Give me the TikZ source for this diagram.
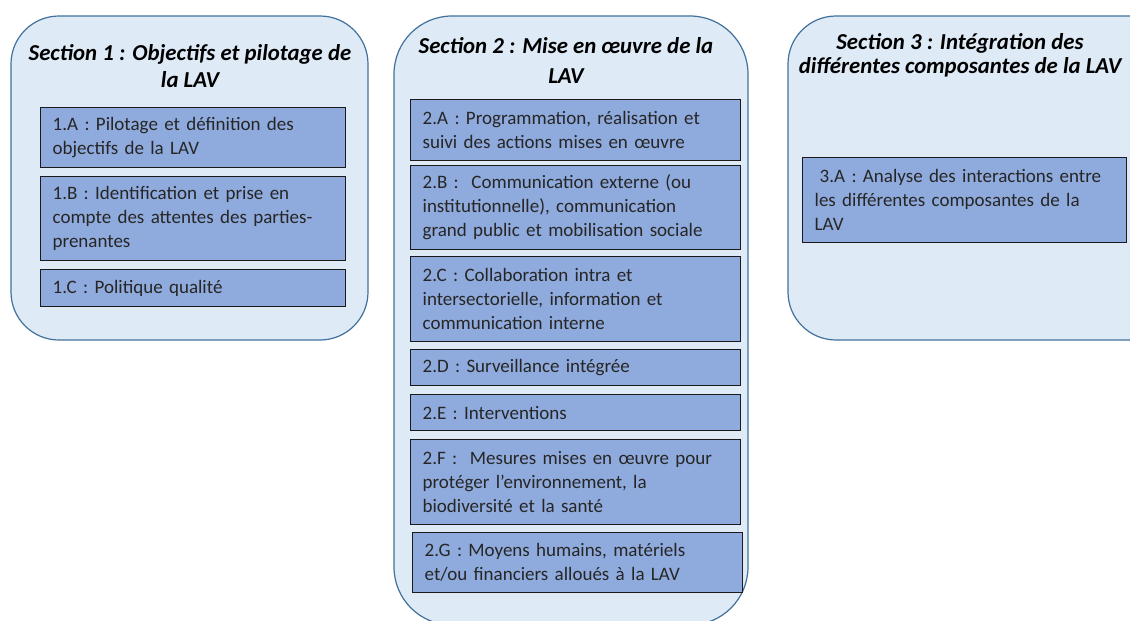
\documentclass[tikz,border=0pt]{standalone}
\usepackage{fontspec}
\setmainfont{Carlito}
\definecolor{secfill}{HTML}{DEEBF7}
\definecolor{secdraw}{HTML}{41719C}
\definecolor{boxfill}{HTML}{8FAADC}
\definecolor{boxdraw}{HTML}{1A1A1A}
\begin{document}
\begin{tikzpicture}[x=1pt,y=-1pt,
  section/.style={fill=secfill,draw=secdraw,line width=1.2pt},
  head/.style={font=\fontsize{22.8}{27}\selectfont\bfseries\itshape,align=center,inner sep=0pt},
  item/.style={draw=boxdraw,fill=boxfill,line width=1.3pt,anchor=north west,align=left,
    font=\fontsize{19}{24}\selectfont,inner xsep=12pt,inner ysep=0pt,text=black!85}]
\useasboundingbox (0,0) rectangle (1130,621);
\clip (0,0) rectangle (1130,621);
\fill[white] (0,0) rectangle (1130,621);
% containers
\draw[section,rounded corners=48pt] (11,16) rectangle (368,340);
\draw[section,rounded corners=58pt] (394,16) rectangle (748,625);
\draw[section,rounded corners=48pt] (788,16) rectangle (1180,340);
% headers
\node[head] (h1) at (190,66) {Section 1 : Objectifs et pilotage de\\la LAV};
\node[head,font=\fontsize{22.8}{30}\selectfont\bfseries\itshape] (h2) at (566,60) {Section 2 : Mise en œuvre de la\\LAV};
\node[head,font=\fontsize{22.8}{24}\selectfont\bfseries\itshape] (h3) at (960,55) {Section 3 : Intégration des\\différentes composantes de la LAV};
% section 1
\node[item,text width=281pt,minimum height=60pt] (a1) at (40,107) {1.A : Pilotage et définition des\\objectifs de la LAV};
\node[item,text width=281pt,minimum height=84pt] (b1) at (40,176) {1.B : Identification et prise en\\compte des attentes des parties-\\prenantes};
\node[item,text width=281pt,minimum height=37pt] (c1) at (40,269) {1.C : Politique qualité};
% section 2
\node[item,text width=306pt,minimum height=61pt] (a2) at (410,99) {2.A : Programmation, réalisation et\\suivi des actions mises en œuvre};
\node[item,text width=306pt,minimum height=84pt] (b2) at (410,165) {2.B :\ \ Communication externe (ou\\institutionnelle), communication\\grand public et mobilisation sociale};
\node[item,text width=306pt,minimum height=85pt] (c2) at (410,256) {2.C : Collaboration intra et\\intersectorielle, information et\\communication interne};
\node[item,text width=306pt,minimum height=36pt] (d2) at (410,349) {2.D : Surveillance intégrée};
\node[item,text width=306pt,minimum height=36pt] (e2) at (410,394) {2.E : Interventions};
\node[item,text width=306pt,minimum height=85pt] (f2) at (410,439) {2.F :\ \ Mesures mises en œuvre pour\\protéger l’environnement, la\\biodiversité et la santé};
\node[item,text width=306pt,minimum height=60pt] (g2) at (412,532) {2.G : Moyens humains, matériels\\et/ou financiers alloués à la LAV};
% section 3
\node[item,text width=300pt,minimum height=85pt] (a3) at (802,157) {\hspace*{5pt}3.A : Analyse des interactions entre\\les différentes composantes de la\\LAV};
\end{tikzpicture}
\end{document}
